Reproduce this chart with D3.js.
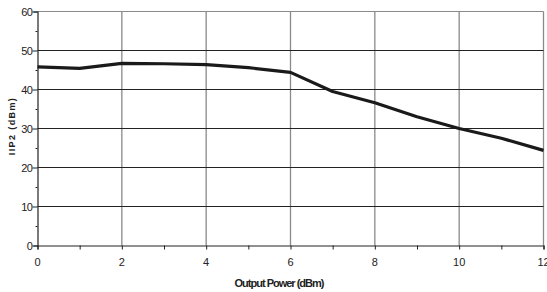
<!DOCTYPE html>
<html><head><meta charset="utf-8">
<script src="https://cdn.jsdelivr.net/npm/d3@7"></script>
<style>body{margin:0;background:#fff}svg{display:block}text{font-family:"Liberation Sans",Arial,sans-serif;fill:#222}</style>
</head><body><svg id="c" width="547" height="292"></svg>
<script>
const xValues = [0,1,2,3,4,5,6,7,8,9,10,11,12];
const iip2 = [45.8,45.4,46.7,46.6,46.4,45.6,44.4,39.5,36.6,33.0,30.0,27.5,24.4];
const xTicks = [0,2,4,6,8,10,12];
const yTicks = [0,10,20,30,40,50,60];
const xTitle = "Output Power (dBm)";
const yTitle = "IIP2 (dBm)";

const svg = d3.select("#c");
const L = 37.5, R = 543.5, T = 11.5, B = 245.5;
const x = d3.scaleLinear().domain([0,12]).range([L,R]);
const y = d3.scaleLinear().domain([0,60]).range([B,T]);

// vertical gridlines (gray)
svg.append("g").selectAll("line").data(xTicks.slice(1)).join("line")
  .attr("x1",d=>x(d)).attr("x2",d=>x(d)).attr("y1",T).attr("y2",B)
  .attr("stroke","#8a8a8a").attr("stroke-width",1.3);
// top border
svg.append("line").attr("x1",L).attr("x2",R).attr("y1",T).attr("y2",T)
  .attr("stroke","#8a8a8a").attr("stroke-width",1.2);
// horizontal gridlines (dark)
svg.append("g").selectAll("line").data(yTicks.slice(1,-1)).join("line")
  .attr("x1",L).attr("x2",R).attr("y1",d=>y(d)).attr("y2",d=>y(d))
  .attr("stroke","#222").attr("stroke-width",1.1);

// axes
const xAxis = d3.axisBottom(x).tickValues(d3.range(0,13,1)).tickSize(4).tickFormat("");
const gx = svg.append("g").attr("transform",`translate(0,${B})`).call(xAxis);
gx.select(".domain").attr("stroke","#222").attr("stroke-width",1.2);
gx.selectAll(".tick line").attr("stroke","#222");
svg.append("g").selectAll("text").data(xTicks).join("text")
  .attr("x",d=>x(d)).attr("y",266).attr("text-anchor","middle")
  .attr("font-size",11).text(d=>d);

const yAxis = d3.axisLeft(y).tickValues(d3.range(0,61,5)).tickSize(4).tickFormat("");
const gy = svg.append("g").attr("transform",`translate(${L},0)`).call(yAxis);
gy.select(".domain").attr("stroke","#222").attr("stroke-width",1.2);
gy.selectAll(".tick line").attr("stroke","#222").attr("x2",d=>d%10===0?-5:-2);
svg.append("g").selectAll("text").data(yTicks).join("text")
  .attr("x",32).attr("y",d=>y(d)+4).attr("text-anchor","end")
  .attr("font-size",11).attr("letter-spacing",-0.8).text(d=>d);

// line
svg.append("path").datum(xValues.map((v,i)=>[v,iip2[i]]))
  .attr("d",d3.line().x(d=>x(d[0])).y(d=>y(d[1])))
  .attr("fill","none").attr("stroke","#1a1a1a").attr("stroke-width",3.2)
  .attr("stroke-linejoin","round");

// titles
svg.append("text").attr("x",279).attr("y",287).attr("text-anchor","middle")
  .attr("font-size",11).attr("font-weight","bold").attr("letter-spacing",-1)
  .text(xTitle);
svg.append("text").attr("transform","translate(15,126) rotate(-90)")
  .attr("text-anchor","middle").attr("font-size",9).attr("font-weight","bold")
  .attr("letter-spacing",1.4).text(yTitle);
</script></body></html>
